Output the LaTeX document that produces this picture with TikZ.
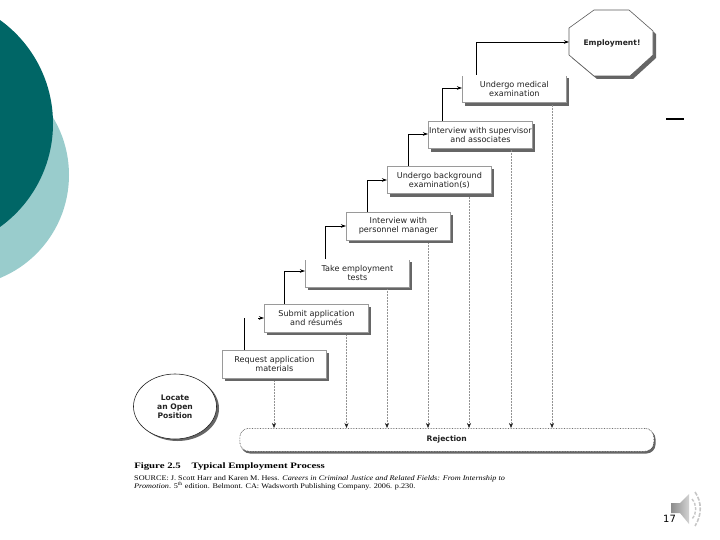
\documentclass[tikz,border=0pt]{standalone}
\usepackage{fontspec}
\setmainfont{Liberation Serif}
\setsansfont{DejaVu Sans}
\usetikzlibrary{arrows.meta,shadows,calc,shapes.geometric}
\definecolor{darkteal}{HTML}{006666}
\definecolor{lightteal}{HTML}{99CCCC}
\definecolor{shadowgrey}{HTML}{666666}
\definecolor{edgegrey}{HTML}{9A9A9A}
\definecolor{inkgrey}{HTML}{222222}
\tikzset{
  stepbox/.style={draw=edgegrey,line width=0.8pt,fill=white,minimum width=104pt,minimum height=27.5pt,inner sep=0pt,
    align=center,font=\sffamily\fontsize{8.1}{9}\selectfont,text=inkgrey,anchor=north west,
    drop shadow={shadow xshift=3pt,shadow yshift=-3pt,fill=shadowgrey,opacity=1}},
  flow/.style={draw=black,line width=0.7pt,-{Stealth[length=5pt,width=3.5pt]}},
  drop/.style={draw=gray!85,line width=0.5pt,densely dotted,-{Stealth[length=5pt,width=4pt,color=inkgrey]}},
  boldlabel/.style={font=\sffamily\bfseries\fontsize{7.6}{9}\selectfont,text=inkgrey,align=center}
}
\begin{document}
\begin{tikzpicture}[x=1pt,y=-1pt]
\useasboundingbox (0,0) rectangle (720,540);
% background discs
\begin{scope}
\clip (0,0) rectangle (720,540);
\fill[lightteal] (-42.4,175) circle[radius=111.4];
\fill[darkteal] (-74.5,123.5) circle[radius=127.5];
\end{scope}
% steps
\node[stepbox] (req) at (222,350) {Request application\\materials};
\node[stepbox] (sub) at (264,304) {Submit application\\and résumés};
\node[stepbox] (tak) at (305,259) {Take employment\\tests};
\node[stepbox] (per) at (346,212) {Interview with\\personnel manager};
\node[stepbox] (bac) at (387,166) {Undergo background\\examination(s)};
\node[stepbox] (sup) at (428,121) {Interview with supervisor\\and associates};
\node[stepbox] (med) at (462,75) {Undergo medical\\examination};
% the top edges of these two boxes do not show in the reference
\draw[white,line width=1.4pt] (tak.north west) -- (tak.north east);
\draw[white,line width=1.4pt] (med.north west) -- (med.north east);
% octagon
\fill[shadowgrey] (597,13) -- (632,13) -- (656,34) -- (656,58) -- (633,79) -- (597,79) -- (572,58) -- (572,31) -- cycle;
\draw[edgegrey!60!black,line width=0.6pt,fill=white] (594,10) -- (629,10) -- (653,31) -- (653,55) -- (630,76) -- (594,76) -- (569,55) -- (569,28) -- cycle;
\node[boldlabel] (emp) at (612,43) {Employment!};
\coordinate (empw) at (569,42);
% locate
\fill[shadowgrey] (177.5,408.5) ellipse[x radius=41.5,y radius=32.5];
\node[draw=inkgrey,line width=0.6pt,fill=white,ellipse,minimum width=83pt,minimum height=65pt,inner sep=0pt,boldlabel] (loc) at (175,406.5) {Locate\\an Open\\Position};
% rejection
\fill[shadowgrey,rounded corners=9pt] (241,430) rectangle (655.5,453.5);
\node[draw=inkgrey,line width=0.6pt,densely dotted,fill=white,rounded corners=9pt,minimum width=414pt,minimum height=23pt,inner sep=0pt,anchor=north west,boldlabel] (rej) at (239.5,428) {Rejection};
% connectors
\coordinate (reqUp) at (244,318);
\coordinate (subIn) at (258,318);
\draw[draw=black,line width=0.7pt] (req.north -| reqUp) -- (reqUp);
\draw[flow] (subIn) -- (subIn -| sub.west);
\draw[flow] (sub.north -| 284,0) |- (tak.west |- 0,271);
\draw[flow] (tak.north -| 325,0) |- (per.west |- 0,226);
\draw[flow] (per.north -| 367,0) |- (bac.west |- 0,180);
\draw[flow] (bac.north -| 408,0) |- (sup.west |- 0,134);
\draw[flow] (sup.north -| 442,0) |- (med.west |- 0,88);
\draw[flow] (med.north -| 476,0) |- (empw);
% rejection drops
\draw[drop] (274,381) -- (rej.north -| 274,0);
\draw[drop] (346.5,335) -- (rej.north -| 346.5,0);
\draw[drop] (387,289) -- (rej.north -| 387,0);
\draw[drop] (428,243) -- (rej.north -| 428,0);
\draw[drop] (469,197) -- (rej.north -| 469,0);
\draw[drop] (511,150) -- (rej.north -| 511,0);
\draw[drop] (552,105) -- (rej.north -| 552,0);
% caption
\node[anchor=west,inner sep=0pt,xscale=1.3,transform shape,font=\bfseries\fontsize{8.3}{9}\selectfont] (figt) at (134,467) {Figure 2.5\hspace{1em}Typical Employment Process};
\node[anchor=north west,inner sep=0pt,align=left,xscale=1.155,transform shape,font=\fontsize{7.1}{8.2}\selectfont] (src) at (134,475.5) {SOURCE: J. Scott Harr and Karen M. Hess. \textit{Careers in Criminal Justice and Related Fields: From Internship to}\\\textit{Promotion}. 5\textsuperscript{th} edition. Belmont. CA: Wadsworth Publishing Company. 2006. p.230.};
% stray dash
\fill[black] (666,118.5) rectangle (684,120.5);
% speaker
\shade[left color=gray!90,right color=gray!35] (671,503) -- (680,503) -- (689,494) -- (689,524) -- (680,513) -- (671,513) -- cycle;
\draw[gray!45,line width=1.6pt,dash pattern=on 4pt off 1.5pt] (695,492) .. controls (702,502) and (702,515) .. (695,526);
\draw[gray!45,line width=1.4pt,dash pattern=on 3pt off 1.5pt] (692,499) .. controls (697,505) and (697,513) .. (692,519);
% page number
\node[anchor=base west,inner sep=0pt,font=\sffamily\fontsize{10}{12}\selectfont] (pg) at (663,522) {17};
\end{tikzpicture}
\end{document}
